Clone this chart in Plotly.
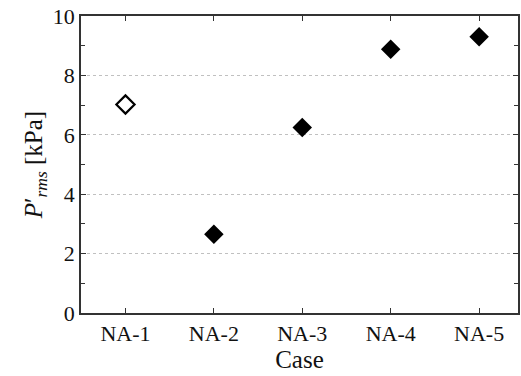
import plotly.graph_objects as go

# Case labels and RMS pressure fluctuation values [kPa]
cases = ["NA-1", "NA-2", "NA-3", "NA-4", "NA-5"]
p_rms = [7.02, 2.65, 6.25, 8.88, 9.30]
filled = [False, True, True, True, True]

y_ticks = [0, 2, 4, 6, 8, 10]

fig = go.Figure()

open_x = [c for c, f in zip(cases, filled) if not f]
open_y = [v for v, f in zip(p_rms, filled) if not f]
fill_x = [c for c, f in zip(cases, filled) if f]
fill_y = [v for v, f in zip(p_rms, filled) if f]

fig.add_trace(go.Scatter(
    x=open_x, y=open_y, mode="markers",
    marker=dict(symbol="diamond", size=14, color="white",
                line=dict(color="black", width=2.2)),
    showlegend=False,
))
fig.add_trace(go.Scatter(
    x=fill_x, y=fill_y, mode="markers",
    marker=dict(symbol="diamond", size=15, color="black",
                line=dict(color="black", width=0)),
    showlegend=False,
))

tick_font = dict(family="Liberation Serif", size=22, color="#111")
title_font = dict(family="Liberation Serif", size=25, color="#111")

fig.update_layout(
    width=521, height=376,
    margin=dict(l=81, r=1, t=16, b=63),
    paper_bgcolor="white", plot_bgcolor="white",
    font=tick_font,
    xaxis=dict(
        type="category", categoryorder="array", categoryarray=cases,
        range=[-0.503, 4.44],
        showline=True, linecolor="#333", linewidth=1.5, mirror="allticks",
        ticks="inside", ticklen=5, tickcolor="#333", tickwidth=1.2,
        showgrid=False, zeroline=False,
        title=dict(text="Case", standoff=0, font=title_font),
        tickfont=tick_font,
    ),
    yaxis=dict(
        range=[0, 10], tickvals=y_ticks,
        showline=True, linecolor="#333", linewidth=1.5, mirror="allticks",
        ticks="inside", ticklen=5, tickcolor="#333", tickwidth=1.2,
        minor=dict(dtick=1, tick0=0, ticks="inside", ticklen=4,
                   tickcolor="#333", showgrid=False),
        showgrid=True, gridcolor="#c0c0c0", griddash="dot", gridwidth=1,
        zeroline=False,
        title=dict(text="<i>P</i>′<sub><i>rms</i></sub> [kPa]", standoff=3, font=title_font),
        tickfont=tick_font,
    ),
)

fig.write_html("out.html")
